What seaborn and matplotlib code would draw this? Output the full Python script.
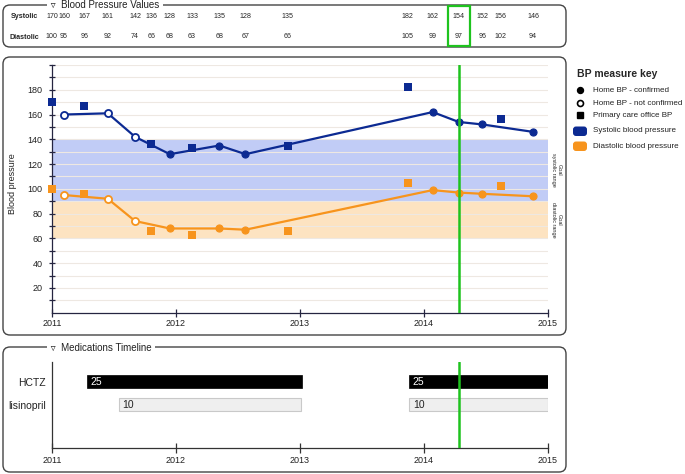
import matplotlib
matplotlib.use("Agg")
import matplotlib.pyplot as plt
import seaborn as sns
import pandas as pd
from matplotlib.patches import FancyBboxPatch, Rectangle

# blood pressure readings (dates as decimal years)
dates = [2011.0, 2011.097, 2011.26, 2011.45, 2011.67, 2011.80, 2011.95, 2012.13,
         2012.35, 2012.56, 2012.90, 2013.87, 2014.07, 2014.28, 2014.47, 2014.62, 2014.88]
systolic = [170, 160, 167, 161, 142, 136, 128, 133, 135, 128, 135, 182, 162, 154, 152, 156, 146]
diastolic = [100, 95, 96, 92, 74, 66, 68, 63, 68, 67, 66, 105, 99, 97, 96, 102, 94]
kinds = ['office', 'home_nc', 'office', 'home_nc', 'home_nc', 'office', 'home', 'office',
         'home', 'home', 'office', 'office', 'home', 'home', 'home', 'office', 'home']

selected_date = 2014.28
systolic_goal = (90, 140)
diastolic_goal = (60, 90)
years = [2011, 2012, 2013, 2014, 2015]

# medications timeline
med_names = ['HCTZ', 'lisinopril']
med_drug = ['HCTZ', 'HCTZ', 'lisinopril', 'lisinopril']
med_start = [2011.28, 2013.88, 2011.54, 2013.88]
med_end = [2013.02, 2015.0, 2013.01, 2015.0]
med_dose = [25, 25, 10, 10]

SYS = '#0c2a92'
DIA = '#f7941d'
GREEN = '#1ec31e'
BORDER = '#444444'

sns.set_theme(style='ticks')
plt.rcParams['font.family'] = ['Liberation Sans', 'DejaVu Sans']

df = pd.DataFrame({'date': dates, 'systolic': systolic, 'diastolic': diastolic, 'kind': kinds})
home = df[df.kind != 'office']

W, H = 685, 474
fig = plt.figure(figsize=(6.85, 4.74), dpi=100)


def px_axes(x0, y0, x1, y1):
    return fig.add_axes([x0 / W, 1 - y1 / H, (x1 - x0) / W, (y1 - y0) / H])


# overlay in pixel coordinates for the panel frames and the key
ov = px_axes(0, 0, W, H)
ov.axis('off')
for y0, y1 in [(5, 47), (57, 335), (347, 472)]:
    ov.add_patch(FancyBboxPatch((3, y0), 563, y1 - y0, boxstyle='round,pad=0,rounding_size=7',
                                fill=False, ec=BORDER, lw=1.0))
ov.text(48, 5, ' \u25bf  Blood Pressure Values ', va='center', ha='left', fontsize=7.0,
        color='#222222', bbox=dict(fc='white', ec='none', pad=0.5))
ov.text(48, 348, ' \u25bf  Medications Timeline ', va='center', ha='left', fontsize=7.0,
        color='#222222', bbox=dict(fc='white', ec='none', pad=0.5))
ov.text(24, 16, 'Systolic', ha='center', va='center', fontsize=5.1, fontweight='bold')
ov.text(24, 37, 'Diastolic', ha='center', va='center', fontsize=5.1, fontweight='bold')

# key
ov.text(577, 74, 'BP measure key', fontweight='bold', fontsize=7.5, va='center')
ov.plot(580, 90, 'o', color='black', ms=4.3)
ov.plot(580, 103, 'o', mfc='white', mec='black', mew=1.2, ms=4.3)
ov.plot(580, 115, 's', color='black', ms=4.3)
ov.add_patch(FancyBboxPatch((573, 126.5), 14, 9.5, boxstyle='round,pad=0,rounding_size=3',
                            fc=SYS, ec='none'))
ov.add_patch(FancyBboxPatch((573, 141.5), 14, 9.5, boxstyle='round,pad=0,rounding_size=3',
                            fc=DIA, ec='none'))
for y, label in [(90, 'Home BP - confirmed'), (103, 'Home BP - not confirmed'),
                 (115, 'Primary care office BP'), (131, 'Systolic blood pressure'),
                 (146, 'Diastolic blood pressure')]:
    ov.text(593, y, label, fontsize=5.8, va='center', color='#222222')
ov.set_xlim(0, W)
ov.set_ylim(H, 0)

# values table
tb = px_axes(52, 5, 548, 47)
tb.set_xlim(2011, 2015)
tb.set_ylim(47, 5)
tb.axis('off')
for d, s, di in zip(dates, systolic, diastolic):
    tb.text(d, 16, str(s), ha='center', va='center', fontsize=5.1, clip_on=False)
    tb.text(d, 37, str(di), ha='center', va='center', fontsize=5.1, clip_on=False)
tb.add_patch(Rectangle((selected_date - 0.09, 6), 0.18, 40, fill=False, ec=GREEN, lw=1.6,
                       clip_on=False))

# main chart
ax = px_axes(52, 65, 548, 312.7)
ax.axhspan(*systolic_goal, color='#c1ccf6', lw=0, zorder=0.2)
ax.axhspan(*diastolic_goal, color='#fde3c1', lw=0, zorder=0.2)

for col, c in [('systolic', SYS), ('diastolic', DIA)]:
    sns.lineplot(data=home, x='date', y=col, color=c, lw=1.6, ax=ax, zorder=3)
    sns.scatterplot(data=df[df.kind == 'home'], x='date', y=col, color=c, edgecolor=c,
                    s=26, linewidth=0.8, ax=ax, zorder=4, clip_on=False)
    sns.scatterplot(data=df[df.kind == 'home_nc'], x='date', y=col, color='white', edgecolor=c,
                    s=26, linewidth=1.3, ax=ax, zorder=4, clip_on=False)
    sns.scatterplot(data=df[df.kind == 'office'], x='date', y=col, color=c, marker='s',
                    s=34, linewidth=0, ax=ax, zorder=4, clip_on=False)

ax.axvline(selected_date, color=GREEN, lw=1.8, zorder=5)
ax.set_xlim(2011, 2015)
ax.set_ylim(0, 200)
ax.set_xticks(years)
ax.set_xticklabels([str(y) for y in years])
ax.set_yticks(range(20, 200, 20))
ax.set_yticks(list(range(10, 200, 20)) + [200], minor=True)
ax.yaxis.grid(True, which='both', color='#eee8e2', lw=0.8)
ax.set_axisbelow(True)
sns.despine(ax=ax)
for sp in ['left', 'bottom']:
    ax.spines[sp].set_color('#252540')
    ax.spines[sp].set_linewidth(0.9)
ax.tick_params(axis='y', which='both', direction='inout', length=4.5, width=0.9,
               color='#252540', labelsize=6.5, pad=4.5, labelcolor='#222222')
ax.tick_params(axis='x', direction='inout', length=6, width=0.9, color='#252540',
               labelsize=6.5, pad=1.5, labelcolor='#222222')
ax.set_xlabel('')
ax.set_ylabel('Blood pressure', fontsize=6.5, color='#222222')
ax.yaxis.set_label_coords((17 - 52) / 496, 0.52)

ax.text(2015.07, sum(systolic_goal) / 2, 'Goal\nsystolic range', rotation=-90, ha='center',
        va='center', fontsize=4, multialignment='center', clip_on=False, linespacing=1.1)
ax.text(2015.07, sum(diastolic_goal) / 2, 'Goal\ndiastolic range', rotation=-90, ha='center',
        va='center', fontsize=4, multialignment='center', clip_on=False, linespacing=1.1)

# medications timeline
mx = px_axes(52, 362, 548, 448)
for drug, a, b, dose in zip(med_drug, med_start, med_end, med_dose):
    y = med_names.index(drug)
    if drug == 'HCTZ':
        mx.barh(y, b - a, left=a, height=0.57, color='black', edgecolor='black', lw=0.5)
        mx.text(a + 0.03, y, str(dose), va='center', ha='left', fontsize=7.5, color='white')
    else:
        mx.barh(y, b - a, left=a, height=0.57, color='#efefef', edgecolor='#c9c9c9', lw=0.8)
        mx.text(a + 0.03, y, str(dose), va='center', ha='left', fontsize=7.5, color='#222222')
mx.axvline(selected_date, color=GREEN, lw=1.8, zorder=5)
mx.set_xlim(2011, 2015)
mx.set_ylim(2.89, -0.85)
mx.set_yticks(range(len(med_names)))
mx.set_yticklabels(med_names)
mx.set_xticks(years)
mx.set_xticklabels([str(y) for y in years])
sns.despine(ax=mx)
for sp in ['left', 'bottom']:
    mx.spines[sp].set_color('#333333')
    mx.spines[sp].set_linewidth(0.9)
mx.tick_params(axis='y', length=0, labelsize=7.5, pad=4.5, labelcolor='#222222')
mx.tick_params(axis='x', direction='inout', length=7, width=0.9, color='#333333',
               labelsize=6.5, pad=2.5, labelcolor='#222222')

fig.savefig('out.png', dpi=100)
